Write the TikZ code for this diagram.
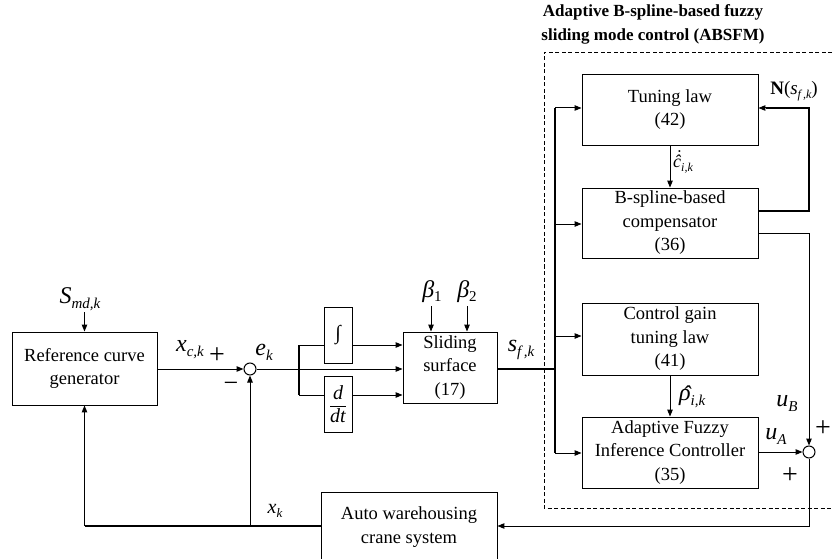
\documentclass[tikz,border=0pt]{standalone}
\usepackage{fontspec}
\setmainfont{Liberation Serif}
\usetikzlibrary{arrows.meta}
\newcommand{\fsz}[1]{\fontsize{#1}{#1}\selectfont}
% italic symbol with italic subscript: size, symbol, subsize, drop, subscript
\newcommand{\IL}[5]{{\fsz{#1}\itshape #2}\raisebox{-#4}{\fsz{#3}\itshape #5}}
\begin{document}
\begin{tikzpicture}[x=1pt,y=-1pt,
  every node/.style={font=\fontsize{18.5}{23.5}\selectfont},
  blk/.style={draw, line width=0.9pt, inner sep=0pt, align=center},
  lbl/.style={inner sep=1pt},
  ln/.style={line width=1pt},
  bus/.style={line width=1.8pt},
  arr/.style={line width=1pt, -{Triangle[length=7pt,width=5.5pt]}},
  sumc/.style={circle, draw, line width=1pt, minimum size=12pt, inner sep=0pt}]
\useasboundingbox (0,0) rectangle (833,559);

% title and dashed frame
\node[font=\bfseries\fontsize{17}{24}\selectfont, align=center] (title) at (653,24) {Adaptive B-spline-based fuzzy\\sliding mode control (ABSFM)};
\coordinate (dtr) at (845,52);
\coordinate (dtl) at (544,52);
\coordinate (dbl) at (544,508);
\coordinate (dbr) at (845,508);
\draw[line width=0.8pt, dash pattern=on 4pt off 2.5pt] (dtr) -- (dtl) -- (dbl) -- (dbr);

% blocks
\node[blk, minimum width=145pt, minimum height=73pt] (ref) at (84.5,368.5) {Reference curve\\generator};
\node[sumc] (s1) at (250,369) {};
\node[blk, minimum width=28pt, minimum height=56pt] (int) at (338,335) {\fsz{20}∫};
\node[blk, minimum width=28pt, minimum height=56pt] (ddt) at (338,404) {$\displaystyle\frac{\mbox{\fsz{20}\itshape d}}{\mbox{\fsz{20}\itshape dt}}$};
\node[blk, minimum width=94pt, minimum height=71pt] (slide) at (450,367.5) {Sliding\\surface\\(17)};
\node[blk, minimum width=176pt, minimum height=71pt] (tune) at (670,109.5) {Tuning law\\(42)};
\node[blk, minimum width=176pt, minimum height=70pt] (bsp) at (670,223) {B-spline-based\\compensator\\(36)};
\node[blk, minimum width=176pt, minimum height=72pt] (cg) at (670,339) {Control gain\\tuning law\\(41)};
\node[blk, minimum width=176pt, minimum height=71pt] (afic) at (670,452.5) {Adaptive Fuzzy\\Inference Controller\\(35)};
\node[sumc] (s2) at (809,452) {};
\node[blk, minimum width=176pt, minimum height=70pt] (crane) at (409,527) {Auto warehousing\\crane system};

% labels
\node[lbl] (smd) at (80,299) {\IL{24}{S}{15}{5pt}{md,k}};
\node[lbl] (b1) at (432,292) {{\fsz{24}\itshape β}\raisebox{-4pt}{\fsz{15}1}};
\node[lbl] (b2) at (467,292) {{\fsz{24}\itshape β}\raisebox{-4pt}{\fsz{15}2}};
\node[lbl] (xc) at (190,350) {\IL{24}{x}{15}{5pt}{c,k}};
\node[lbl] (plus1) at (217,356) {\fsz{28}+};
\node[lbl] (minus1) at (231,387) {\fsz{26}−};
\node[lbl] (ek) at (264,352) {\IL{24}{e}{15}{5pt}{k}};
\node[lbl] (sf) at (521,350) {\IL{24}{s}{15}{5pt}{f\,,k}};
\node[lbl] (nsf) at (794,91) {{\fsz{19}\bfseries N}{\fsz{19}(\itshape s}\raisebox{-3.5pt}{\fsz{12}\itshape f\,,k}{\fsz{19})}};
\node[lbl, anchor=west] (cdot) at (672,162) {{\fsz{18}\itshape\rlap{\raisebox{4.5pt}{\kern2.2pt\char"02D9}}ĉ}\raisebox{-4pt}{\fsz{12}\itshape i,k}};
\node[lbl, anchor=west] (rho) at (678,397) {{\fsz{24}\itshape\rlap{\raisebox{-2pt}{\kern3.5pt\char"02C6}}ρ}\raisebox{-5pt}{\fsz{15}\itshape i,k}};
\node[lbl] (ub) at (787,404) {\IL{24}{u}{15}{5pt}{B}};
\node[lbl] (ua) at (776,436) {\IL{24}{u}{15}{5pt}{A}};
\node[lbl] (plus2) at (823,429) {\fsz{28}+};
\node[lbl] (plus3) at (790,476) {\fsz{28}+};
\node[lbl] (xk) at (275,511) {\IL{20}{x}{13}{4pt}{k}};

% coordinates
\coordinate (b1t) at (299,345);
\coordinate (b1b) at (299,395);
\coordinate (bus2m) at (555,369);
\coordinate (bt) at (555,108);
\coordinate (bb) at (555,453);
\coordinate (bs) at (555,224);
\coordinate (bc) at (555,336);
\coordinate (lo1) at (809,211);
\coordinate (lo1t) at (809,108);
\coordinate (lo2) at (809,233);
\coordinate (fb) at (809,526);
\coordinate (fbl) at (84.5,526);
\coordinate (bst1) at (431,306);
\coordinate (bst2) at (467,306);
\coordinate (smds) at (84.5,312);

% left part
\draw[arr] (smds) -- (ref.north);
\draw[arr] (ref.east |- s1) -- (s1.west);
\draw[arr] (s1.east) -- (slide.west |- s1);
\draw[bus] (b1t) -- (b1b);
\draw[ln] (b1t) -- (int.west |- b1t);
\draw[ln] (b1b) -- (ddt.west |- b1b);
\draw[arr] (int.east |- b1t) -- (slide.west |- b1t);
\draw[arr] (ddt.east |- b1b) -- (slide.west |- b1b);
\draw[arr] (bst1) -- (bst1 |- slide.north);
\draw[arr] (bst2) -- (bst2 |- slide.north);

% sliding variable bus
\draw[bus] (slide.east |- bus2m) -- (bus2m);
\draw[bus] (bt) -- (bb);
\draw[arr] (bt) -- (tune.west |- bt);
\draw[arr] (bs) -- (bsp.west |- bs);
\draw[arr] (bc) -- (cg.west |- bc);
\draw[arr] (bb) -- (afic.west |- bb);

% ABSFM internals
\draw[arr] (tune.south) -- (bsp.north);
\draw[arr] (cg.south) -- (afic.north);
\draw[bus] (bsp.east |- lo1) -- (lo1) -- (lo1t) -- ([xshift=8pt]tune.east |- lo1t);
\draw[arr] ([xshift=8pt]tune.east |- lo1t) -- (tune.east |- lo1t);
\draw[arr] (bsp.east |- lo2) -- (lo2) -- (s2.north);
\draw[arr] (afic.east |- s2) -- (s2.west);

% feedback
\draw[arr] (s2.south) -- (fb) -- (crane.east |- fb);
\draw[line width=1.4pt] (crane.west |- fb) -- (fbl);
\draw[arr] (fbl) -- (ref.south);
\draw[arr] (s1 |- fb) -- (s1.south);
\end{tikzpicture}
\end{document}
